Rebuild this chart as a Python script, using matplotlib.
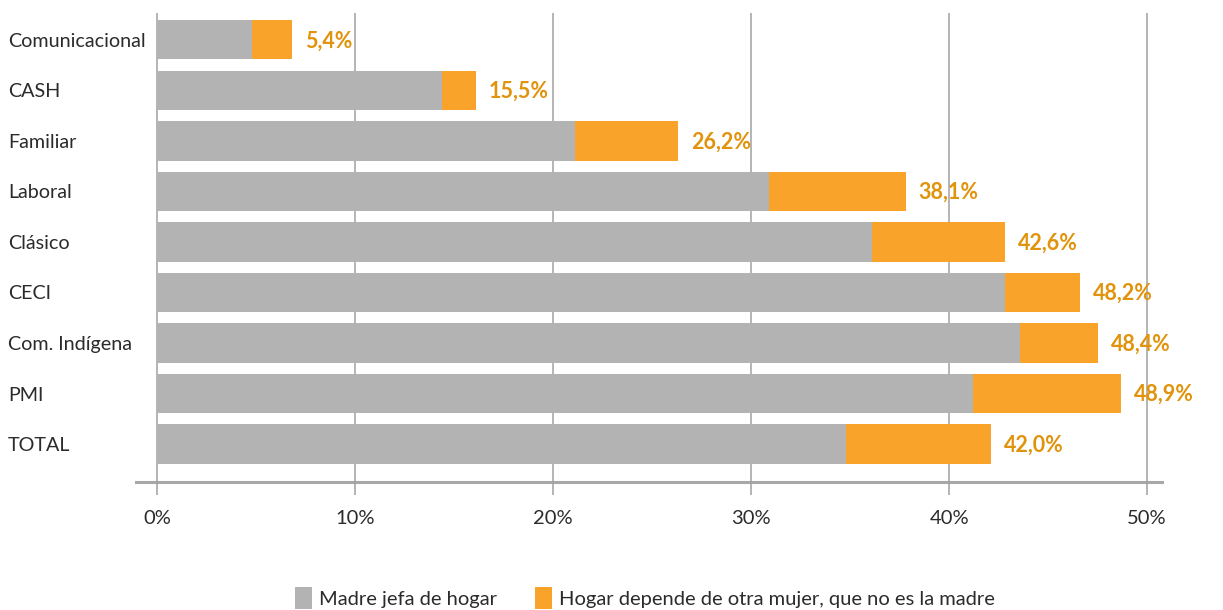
import matplotlib
matplotlib.use("Agg")
import matplotlib.pyplot as plt
from matplotlib.transforms import offset_copy

# Datos del gráfico (porcentajes).
categorias = ["Comunicacional", "CASH", "Familiar", "Laboral", "Clásico",
              "CECI", "Com. Indígena", "PMI", "TOTAL"]
madre_jefa = [4.8, 14.4, 21.1, 30.9, 36.1, 42.8, 43.6, 41.2, 34.8]
otra_mujer = [2.0, 1.7, 5.2, 6.9, 6.7, 3.8, 3.9, 7.5, 7.3]
etiquetas = ["5,4%", "15,5%", "26,2%", "38,1%", "42,6%",
             "48,2%", "48,4%", "48,9%", "42,0%"]
ticks = [0, 10, 20, 30, 40, 50]
tick_labels = ["0%", "10%", "20%", "30%", "40%", "50%"]
series = ["Madre jefa de hogar",
          "Hogar depende de otra mujer, que no es la madre"]

GRIS = "#b3b3b3"
NARANJA = "#f9a32a"
NARANJA_TXT = "#e0930b"
TEXTO = "#2b2b2b"
LINEA = "#a0a0a0"

plt.rcParams["font.family"] = ["Lato", "DejaVu Sans"]

fig = plt.figure(figsize=(12.23, 6.10), dpi=100)
ax = fig.add_axes([136 / 1223, 1 - 482 / 610, (1162 - 136) / 1223, (482 - 13) / 610])

y = list(range(len(categorias)))
ax.barh(y, madre_jefa, height=0.78, color=GRIS, label=series[0], zorder=2)
ax.barh(y, otra_mujer, left=madre_jefa, height=0.78, color=NARANJA,
        label=series[1], zorder=2)

# Etiquetas de total a la derecha de cada barra.
trans = offset_copy(ax.transData, fig=fig, x=13, y=-1, units="dots")
for i, (a, b) in enumerate(zip(madre_jefa, otra_mujer)):
    ax.text(a + b, i, etiquetas[i], transform=trans, ha="left", va="center",
            fontsize=15.5, fontweight="bold", color=NARANJA_TXT, zorder=3)

ax.set_xlim(-1.06, 50.75)
ax.set_ylim(8.75, -0.53)

ax.set_xticks(ticks)
ax.set_xticklabels(tick_labels, fontsize=14.5, color=TEXTO)
ax.tick_params(axis="x", direction="out", length=9.5, width=1.1, color=LINEA, pad=11)
ax.grid(axis="x", color=LINEA, linewidth=1.1, zorder=0)

# Categorías alineadas a la izquierda del todo.
ax.set_yticks(y)
ax.set_yticklabels(categorias, fontsize=14.2, color=TEXTO)
ax.tick_params(axis="y", length=0, pad=92)
for lab in ax.get_yticklabels():
    lab.set_horizontalalignment("left")

for s in ["top", "right", "left"]:
    ax.spines[s].set_visible(False)
ax.spines["bottom"].set_color("#a8a8a8")
ax.spines["bottom"].set_linewidth(2.2)
ax.spines["bottom"].set_zorder(1)

handles, labels = ax.get_legend_handles_labels()
fig.legend(handles, labels, loc="center", bbox_to_anchor=(645 / 1223, 1 - 598 / 610),
           ncol=2, frameon=False, fontsize=14.5, handlelength=0.85, handleheight=1.25,
           handletextpad=0.35, columnspacing=1.9, labelcolor=TEXTO)

fig.savefig("out.png", dpi=100)
